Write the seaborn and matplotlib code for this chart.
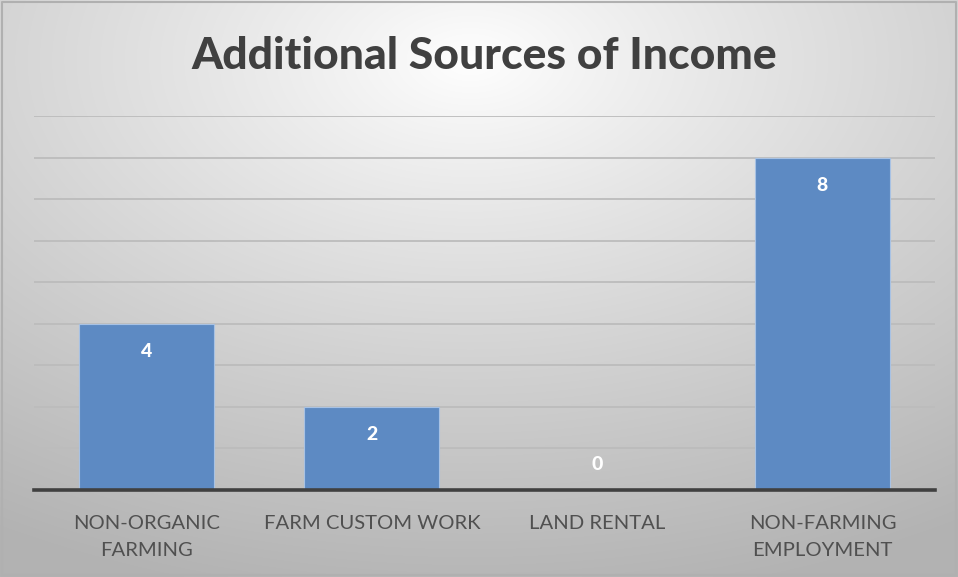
import numpy as np
import pandas as pd
import matplotlib
matplotlib.use("Agg")
import matplotlib.pyplot as plt
import seaborn as sns

categories = ["NON-ORGANIC\nFARMING", "FARM CUSTOM WORK", "LAND RENTAL", "NON-FARMING\nEMPLOYMENT"]
counts = [4, 2, 0, 8]
title = "Additional Sources of Income"

sns.set_theme(style="white")
plt.rcParams["font.family"] = ["Lato", "DejaVu Sans"]

df = pd.DataFrame({"source": categories, "count": counts})

fig = plt.figure(figsize=(9.58, 5.77), dpi=100)

# radial grey background
bg = fig.add_axes([0, 0, 1, 1], zorder=-10)
yy, xx = np.mgrid[0:577, 0:958]
cx, cy = 470, 60
r = np.sqrt(((xx - cx) / 958.0) ** 2 + ((yy - cy) / 577.0) ** 2)
val = 1.0 - 0.30 * np.clip(r / 0.95, 0, 1) ** 0.9
img = np.dstack([val, val, val])
bg.imshow(img, aspect="auto", extent=[0, 1, 0, 1], origin="upper")
bg.plot([0.002, 0.998, 0.998, 0.002, 0.002], [0.003, 0.003, 0.997, 0.997, 0.003],
        color="#b0b0b0", lw=1.5)
bg.set_xlim(0, 1)
bg.set_ylim(0, 1)
bg.axis("off")

ax = fig.add_axes([34 / 958, 1 - 490 / 577, (935 - 34) / 958, (490 - 116) / 577])
ax.patch.set_alpha(0)

sns.barplot(data=df, x="source", y="count", color="#5d8ac3", width=0.6,
            saturation=1, edgecolor="#a8c2e4", linewidth=0.8, ax=ax, zorder=3)

ax.set_ylim(0, 9)
ax.set_xlim(-0.5, 3.5)
ax.set_yticks(range(1, 10))
ax.yaxis.grid(True, color="#bcbcbc", lw=1.3, zorder=0)
ax.tick_params(axis="y", left=False, labelleft=False)
ax.tick_params(axis="x", bottom=False, labelsize=14.6, labelcolor="#505050", pad=12)
for lbl in ax.get_xticklabels():
    lbl.set_linespacing(1.75)
ax.set_xlabel("")
ax.set_ylabel("")
for s in ["top", "right", "left"]:
    ax.spines[s].set_visible(False)
ax.spines["bottom"].set_color("#404040")
ax.spines["bottom"].set_linewidth(2.6)
ax.spines["bottom"].set_zorder(5)

# value labels: inside the bar top, or just above the axis for empty bars
for i, v in enumerate(counts):
    dy = -28 if v > 0 else 25
    ax.annotate(str(v), (i, v), xytext=(0, dy), textcoords="offset pixels",
                ha="center", va="center", color="white", fontsize=14,
                fontweight="black", zorder=6)

fig.text(0.505, 1 - 56 / 577, title, ha="center", va="center", fontsize=32,
         fontweight="black", color="#404040")

fig.savefig("out.png", dpi=100)
